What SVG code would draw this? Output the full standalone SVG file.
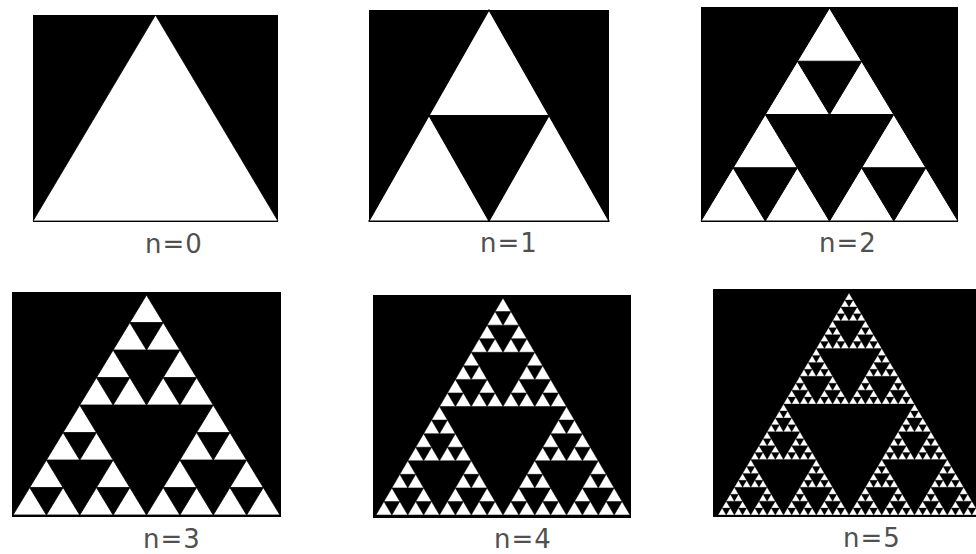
<svg xmlns="http://www.w3.org/2000/svg" xmlns:xlink="http://www.w3.org/1999/xlink" width="976" height="554" viewBox="0 0 976 554">
<style>
.bg{fill:#000}
.t{fill:#fff;stroke:#000;vector-effect:non-scaling-stroke}
.lbl{font-family:"DejaVu Sans",Verdana,sans-serif;font-size:26px;fill:#505050;text-anchor:middle;letter-spacing:1px}
</style>
<defs>
<g id="s0"><polygon class="t" points="0.5,0 1,1 0,1"/></g>
<g id="s1"><use href="#s0" xlink:href="#s0" transform="translate(0.25,0) scale(0.5)"/><use href="#s0" xlink:href="#s0" transform="translate(0,0.5) scale(0.5)"/><use href="#s0" xlink:href="#s0" transform="translate(0.5,0.5) scale(0.5)"/></g>
<g id="s2"><use href="#s1" xlink:href="#s1" transform="translate(0.25,0) scale(0.5)"/><use href="#s1" xlink:href="#s1" transform="translate(0,0.5) scale(0.5)"/><use href="#s1" xlink:href="#s1" transform="translate(0.5,0.5) scale(0.5)"/></g>
<g id="s3"><use href="#s2" xlink:href="#s2" transform="translate(0.25,0) scale(0.5)"/><use href="#s2" xlink:href="#s2" transform="translate(0,0.5) scale(0.5)"/><use href="#s2" xlink:href="#s2" transform="translate(0.5,0.5) scale(0.5)"/></g>
<g id="s4"><use href="#s3" xlink:href="#s3" transform="translate(0.25,0) scale(0.5)"/><use href="#s3" xlink:href="#s3" transform="translate(0,0.5) scale(0.5)"/><use href="#s3" xlink:href="#s3" transform="translate(0.5,0.5) scale(0.5)"/></g>
<g id="s5"><use href="#s4" xlink:href="#s4" transform="translate(0.25,0) scale(0.5)"/><use href="#s4" xlink:href="#s4" transform="translate(0,0.5) scale(0.5)"/><use href="#s4" xlink:href="#s4" transform="translate(0.5,0.5) scale(0.5)"/></g>
</defs>
<rect width="976" height="554" fill="#fff"/>
<g id="panel-n0">
<rect class="bg" x="33" y="15" width="245" height="207"/>
<use href="#s0" xlink:href="#s0" stroke-width="0.8" transform="translate(33,15) scale(245,206)"/>
<text class="lbl" x="174" y="253">n=0</text>
</g>
<g id="panel-n1">
<rect class="bg" x="369" y="10" width="240" height="212"/>
<use href="#s1" xlink:href="#s1" stroke-width="1.2" transform="translate(369,10) scale(240,211)"/>
<text class="lbl" x="509" y="252">n=1</text>
</g>
<g id="panel-n2">
<rect class="bg" x="701" y="7" width="257" height="215"/>
<use href="#s2" xlink:href="#s2" stroke-width="1" transform="translate(701,8) scale(257,213)"/>
<text class="lbl" x="848" y="252">n=2</text>
</g>
<g id="panel-n3">
<rect class="bg" x="12" y="292" width="269" height="225"/>
<use href="#s3" xlink:href="#s3" stroke-width="0.8" transform="translate(13,295) scale(267,220)"/>
<text class="lbl" x="172" y="548">n=3</text>
</g>
<g id="panel-n4">
<rect class="bg" x="373" y="295" width="258" height="223"/>
<use href="#s4" xlink:href="#s4" stroke-width="0.5" transform="translate(376,298) scale(254,217)"/>
<text class="lbl" x="523" y="548">n=4</text>
</g>
<g id="panel-n5">
<rect class="bg" x="713" y="289" width="263" height="228"/>
<use href="#s5" xlink:href="#s5" stroke-width="0.3" transform="translate(718,293) scale(262,222)"/>
<text class="lbl" x="872" y="547">n=5</text>
</g>
</svg>
